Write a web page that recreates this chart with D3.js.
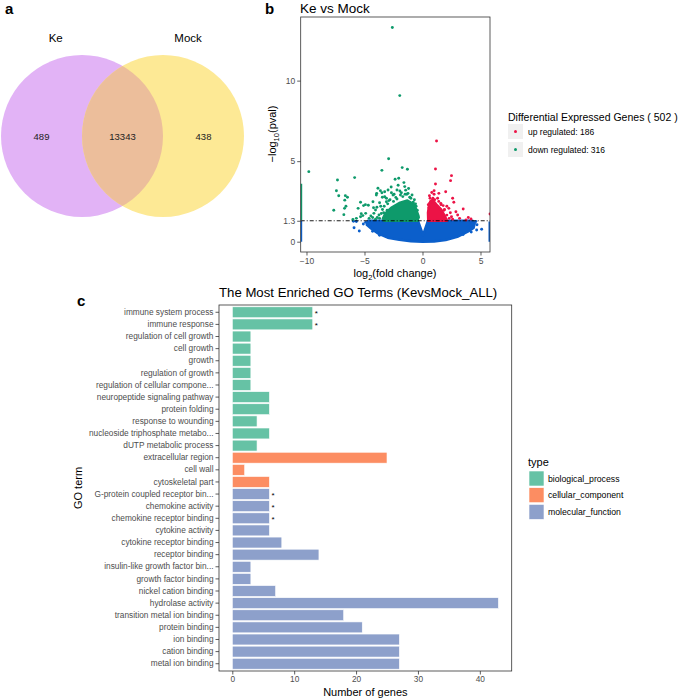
<!DOCTYPE html>
<html>
<head>
<meta charset="utf-8">
<script src="https://cdn.jsdelivr.net/npm/d3@7"></script>
<style>
  body { margin: 0; background: #fff; }
  text { font-family: 'Liberation Sans', Arial, Helvetica, sans-serif; }
</style>
</head>
<body>
<script>
// ---- panel a: venn ----
const vennSets = ['Ke', 'Mock']
const vennCounts = [489, 13343, 438] // Ke only, shared, Mock only

// ---- panel b: volcano (log2 fold change, -log10 pval) ----
const pvalCutoff = 1.3
const degTotal = 502
const upCount = 186
const downCount = 316
const downPoints = [
  [-2.6, 13.3], [-1.96, 9.07], [-9.8, 4.35], [-2.92, 5.15], [-3.5, 4.43], [-1.75, 4.6], [-1.3, 4.5],
  [-5.85, 3.98], [-7.33, 3.83], [-7.42, 3.16], [-7.22, 2.85], [-6.65, 2.86], [-6.47, 2.76], [-6.7, 2.58],
  [-7.65, 1.95], [-6.6, 2.2], [-6.72, 2.07], [-6.78, 1.68], [-5.34, 2.45], [-5.55, 2.07], [-5.08, 2.24],
  [-4.92, 2.3], [-4.67, 2.26], [-5.28, 1.74], [-5.14, 1.62], [-5.34, 1.55], [-4.9, 1.76], [-4.22, 2.11],
  [-4.05, 1.97], [-3.93, 2.14], [-4.19, 1.76], [-3.75, 1.66], [-3.35, 1.8], [-3.84, 3.32], [-3.63, 3.17],
  [-3.95, 3.0], [-3.5, 3.04], [-3.26, 3.1], [-3.26, 2.79], [-2.97, 3.21], [-2.68, 3.04], [-2.05, 3.94],
  [-2.36, 3.88], [-1.6, 3.67], [-1.53, 3.42], [-2.2, 3.21], [-1.82, 3.04], [-1.25, 3.0], [-1.1, 2.76],
  [-2.54, 2.9], [-3.11, 2.7], [-3.98, 2.9], [-3.46, 2.76], [-4.27, 2.48], [-3.7, 2.42], [-3.11, 2.48],
  [-4.6, 1.45], [-4.45, 1.6], [-3.6, 2.2], [-3.9, 1.5], [-2.8, 2.6], [-2.3, 2.75], [-1.9, 2.9],
  [-1.45, 3.2], [-0.9, 2.9], [-0.7, 2.6], [-1.2, 3.3], [-2.1, 3.5], [-2.7, 3.4], [-5.7, 1.45], [-6.0, 1.38],
  [-3.3, 2.2], [-3.0, 2.35], [-2.5, 2.5], [-2.2, 2.65], [-1.7, 2.8], [-1.5, 2.95], [-1.0, 2.7], [-0.8, 2.45],
  [-0.55, 2.2], [-0.45, 1.95], [-3.55, 1.75], [-3.7, 1.45], [-3.45, 2.0], [-2.9, 2.55], [-1.35, 2.95],
  [-0.6, 2.35], [-2.45, 2.95], [-1.95, 3.15], [-3.05, 1.95], [-4.05, 1.4], [-4.3, 1.5], [-0.35, 1.5]
]
const upPoints = [
  [1.21, 6.25], [1.12, 4.51], [2.5, 4.1], [2.42, 3.79], [1.12, 3.58], [1.0, 3.17], [2.0, 3.1], [1.41, 3.0],
  [2.6, 2.7], [2.7, 2.45], [1.58, 2.38], [1.78, 2.24], [2.27, 2.07], [2.88, 1.86], [3.51, 2.03], [3.03, 1.66],
  [3.75, 1.35], [4.18, 1.41], [3.95, 1.5], [2.5, 1.55], [2.4, 1.8], [2.1, 2.2], [0.8, 3.05], [0.6, 2.85],
  [1.3, 2.7], [1.9, 2.0], [0.5, 2.3], [3.2, 1.45], [5.82, 1.72],
  [0.55, 2.1], [0.7, 2.5], [0.9, 2.7], [1.05, 2.6], [1.4, 2.5], [1.6, 2.3], [1.85, 1.95], [2.1, 1.65],
  [2.3, 1.45], [1.0, 2.95], [0.65, 2.7], [2.6, 1.4]
]
const nsPoints = [
  [-5.9, 0.87], [-5.45, 0.66], [-5.95, 1.27], [-5.7, 1.25], [-4.56, 0.98], [-4.9, 1.2], [-5.1, 1.1],
  [4.67, 0.73], [5.1, 0.77], [3.95, 0.9], [4.18, 1.04], [4.1, 1.24], [4.6, 1.25], [4.7, 1.05],
  [-4.3, 0.65], [-3.7, 0.4], [3.5, 0.45], [4.2, 0.6]
]
// dense cores, outlined from the picture
const nsCore = [
  [-4.7, 1.3], [-0.4, 1.3], [0.05, 0.4], [0.48, 1.3], [4.3, 1.3], [4.5, 1.15], [4.4, 0.85], [3.9, 0.62],
  [3.0, 0.3], [2.0, 0.1], [1.0, 0.02], [0.0, 0.0], [-1.0, 0.03], [-2.0, 0.12], [-3.0, 0.25], [-3.8, 0.5],
  [-4.4, 0.8], [-4.8, 1.05]
]
const downCore = [
  [-3.3, 1.3], [-0.42, 1.3], [-0.35, 1.6], [-0.7, 2.3], [-1.3, 2.55], [-2.0, 2.4], [-2.7, 2.1], [-3.2, 1.75], [-3.4, 1.45]
]
const upCore = [
  [0.5, 1.3], [2.1, 1.3], [1.95, 1.55], [1.6, 2.0], [1.2, 2.3], [0.85, 2.6], [0.6, 2.4], [0.48, 1.8]
]
// points piled on the x limits
const edgeStrips = [
  { x: -10.5, y0: 1.35, y1: 3.6, type: 'down' },
  { x: -10.5, y0: 0, y1: 1.3, type: 'ns' },
  { x: 5.82, y0: 0, y1: 1.25, type: 'ns' }
]
const volcanoXTicks = [-10, -5, 0, 5]
const volcanoYTicks = [0, 1.3, 5, 10]

// ---- panel c: GO terms ----
const goTerms = [
  'immune system process', 'immune response', 'regulation of cell growth', 'cell growth', 'growth',
  'regulation of growth', 'regulation of cellular compone...', 'neuropeptide signaling pathway',
  'protein folding', 'response to wounding', 'nucleoside triphosphate metabo...', 'dUTP metabolic process',
  'extracellular region', 'cell wall', 'cytoskeletal part',
  'G-protein coupled receptor bin...', 'chemokine activity', 'chemokine receptor binding', 'cytokine activity',
  'cytokine receptor binding', 'receptor binding', 'insulin-like growth factor bin...', 'growth factor binding',
  'nickel cation binding', 'hydrolase activity', 'transition metal ion binding', 'protein binding',
  'ion binding', 'cation binding', 'metal ion binding'
]
const goCounts = [13, 13, 3, 3, 3, 3, 3, 6, 6, 4, 6, 4, 25, 2, 6, 6, 6, 6, 6, 8, 14, 3, 3, 7, 43, 18, 21, 27, 27, 27]
const goTypes = [
  'biological_process', 'biological_process', 'biological_process', 'biological_process', 'biological_process',
  'biological_process', 'biological_process', 'biological_process', 'biological_process', 'biological_process',
  'biological_process', 'biological_process',
  'cellular_component', 'cellular_component', 'cellular_component',
  'molecular_function', 'molecular_function', 'molecular_function', 'molecular_function', 'molecular_function',
  'molecular_function', 'molecular_function', 'molecular_function', 'molecular_function', 'molecular_function',
  'molecular_function', 'molecular_function', 'molecular_function', 'molecular_function', 'molecular_function'
]
const goSignificant = [true, true, false, false, false, false, false, false, false, false, false, false, false, false, false,
  true, true, true, false, false, false, false, false, false, false, false, false, false, false, false]
const typeNames = ['biological_process', 'cellular_component', 'molecular_function']
const typeColors = ['#66c2a5', '#fc8d62', '#8da0cb']
const goXTicks = [0, 10, 20, 30, 40]

const tickGrey = '#4d4d4d'
const frameGrey = '#333333'

const svg = d3.select('body').append('svg').attr('width', 685).attr('height', 700)

// panel letters
svg.selectAll('text.letter')
  .data([{ t: 'a', x: 5, y: 14 }, { t: 'b', x: 265, y: 14 }, { t: 'c', x: 77, y: 306 }])
  .join('text')
  .attr('x', d => d.x).attr('y', d => d.y)
  .attr('font-size', 15).attr('font-weight', 'bold')
  .text(d => d.t)

// ================= a =================
{
  const u = d3.scaleLinear().domain([-1, 1]).range([82, 163])
  const cy = 136
  const r = u(2) - u(0)
  const g = svg.append('g')
  g.append('clipPath').attr('id', 'keClip')
    .append('circle').attr('cx', u(-1)).attr('cy', cy).attr('r', r)
  g.append('circle').attr('cx', u(-1)).attr('cy', cy).attr('r', r).attr('fill', '#e2b3f6')
  g.append('circle').attr('cx', u(1)).attr('cy', cy).attr('r', r).attr('fill', '#fde995')
  g.append('circle').attr('cx', u(1)).attr('cy', cy).attr('r', r).attr('fill', '#ecbe9b')
    .attr('clip-path', 'url(#keClip)')

  g.selectAll('text.set')
    .data(vennSets)
    .join('text')
    .attr('x', (d, i) => u(i === 0 ? -1.65 : 1.62))
    .attr('y', 42)
    .attr('text-anchor', 'middle')
    .attr('font-size', 11.5)
    .text(d => d)

  g.selectAll('text.count')
    .data(vennCounts)
    .join('text')
    .attr('x', (d, i) => u(-2 + i * 2))
    .attr('y', cy + 3.5)
    .attr('text-anchor', 'middle')
    .attr('font-size', 9.5)
    .attr('fill', '#222')
    .text(d => d)
}

// ================= b =================
{
  const colors = { down: '#0e9a6b', up: '#ec1346', ns: '#0b5fcb' }
  const x = d3.scaleLinear().domain([-10.5, 5.82]).range([300.7, 490])
  const y = d3.scaleLinear().domain([-0.64, 13.95]).range([252, 17])
  const g = svg.append('g')

  g.append('clipPath').attr('id', 'volClip')
    .append('rect').attr('x', 300.7).attr('y', 17).attr('width', 189.3).attr('height', 235)

  const plot = g.append('g').attr('clip-path', 'url(#volClip)')
  const poly = d3.line().x(d => x(d[0])).y(d => y(d[1])).curve(d3.curveLinearClosed)

  plot.selectAll('path.core')
    .data([{ pts: nsCore, type: 'ns' }, { pts: downCore, type: 'down' }, { pts: upCore, type: 'up' }])
    .join('path')
    .attr('d', d => poly(d.pts))
    .attr('fill', d => colors[d.type])
    .attr('stroke', d => colors[d.type])
    .attr('stroke-width', 2.6)
    .attr('stroke-linejoin', 'round')

  plot.selectAll('line.strip')
    .data(edgeStrips)
    .join('line')
    .attr('x1', d => x(d.x)).attr('x2', d => x(d.x))
    .attr('y1', d => y(d.y0)).attr('y2', d => y(d.y1))
    .attr('stroke', d => colors[d.type])
    .attr('stroke-width', 3)

  const dots = [
    ...nsPoints.map(p => ({ p, type: 'ns' })),
    ...downPoints.map(p => ({ p, type: 'down' })),
    ...upPoints.map(p => ({ p, type: 'up' }))
  ]
  plot.selectAll('circle')
    .data(dots)
    .join('circle')
    .attr('cx', d => x(d.p[0]))
    .attr('cy', d => y(d.p[1]))
    .attr('r', 1.45)
    .attr('fill', d => colors[d.type])

  // cutoff line
  g.append('line')
    .attr('x1', x.range()[0]).attr('x2', x.range()[1])
    .attr('y1', y(pvalCutoff)).attr('y2', y(pvalCutoff))
    .attr('stroke', '#000').attr('stroke-width', 0.9)
    .attr('stroke-dasharray', '4,2,1,2')

  g.append('rect')
    .attr('x', 300.7).attr('y', 17).attr('width', 189.3).attr('height', 235)
    .attr('fill', 'none').attr('stroke', frameGrey).attr('stroke-width', 0.8)

  const ax = g.append('g').attr('transform', 'translate(0,252)')
    .call(d3.axisBottom(x).tickValues(volcanoXTicks).tickSize(3.5).tickPadding(2))
  const ay = g.append('g').attr('transform', 'translate(300.7,0)')
    .call(d3.axisLeft(y).tickValues(volcanoYTicks).tickSize(3.5).tickPadding(2).tickFormat(d => d))
  ;[ax, ay].forEach(a => {
    a.select('.domain').remove()
    a.selectAll('line').attr('stroke', frameGrey).attr('stroke-width', 0.8)
    a.selectAll('text').attr('fill', tickGrey).attr('font-size', 8.5)
      .attr('font-family', "'Liberation Sans', Arial, sans-serif")
  })

  g.append('text')
    .attr('x', 300).attr('y', 13)
    .attr('font-size', 13.5)
    .text('Ke vs Mock')

  const xl = g.append('text')
    .attr('x', 395).attr('y', 277)
    .attr('text-anchor', 'middle').attr('font-size', 11)
  xl.append('tspan').text('log')
  xl.append('tspan').attr('font-size', 7.5).attr('dy', 3).text('2')
  xl.append('tspan').attr('dy', -3).text('(fold change)')

  const yl = g.append('text')
    .attr('transform', 'translate(276,134) rotate(-90)')
    .attr('text-anchor', 'middle').attr('font-size', 11)
  yl.append('tspan').text('\u2212log')
  yl.append('tspan').attr('font-size', 7.5).attr('dy', 3).text('10')
  yl.append('tspan').attr('dy', -3).text('(pval)')

  // legend
  const lg = g.append('g')
  lg.append('text').attr('x', 508).attr('y', 121).attr('font-size', 10.5)
    .text(`Differential Expressed Genes ( ${degTotal} )`)
  const items = [
    { label: `up regulated: ${upCount}`, type: 'up' },
    { label: `down regulated: ${downCount}`, type: 'down' }
  ]
  const row = lg.selectAll('g.item').data(items).join('g')
    .attr('transform', (d, i) => `translate(508,${124 + i * 18})`)
  row.append('rect').attr('width', 15).attr('height', 15).attr('fill', '#f0f0f0')
  row.append('circle').attr('cx', 7.5).attr('cy', 7.5).attr('r', 1.5).attr('fill', d => colors[d.type])
  row.append('text').attr('x', 20).attr('y', 10.5).attr('font-size', 8.5).text(d => d.label)
}

// ================= c =================
{
  const left = 219, right = 511.7, top = 305, bottom = 671
  const x = d3.scaleLinear().domain([-2.15, 45.15]).range([left, right])
  const y = d3.scaleBand().domain(goTerms).range([top, bottom]).paddingInner(0.1).paddingOuter(0.15)
  const color = d3.scaleOrdinal().domain(typeNames).range(typeColors)
  const g = svg.append('g')

  g.append('text')
    .attr('x', left).attr('y', 297)
    .attr('font-size', 13.2)
    .text('The Most Enriched GO Terms (KevsMock_ALL)')

  g.selectAll('rect.bar')
    .data(goTerms)
    .join('rect')
    .attr('x', x(0))
    .attr('y', d => y(d))
    .attr('width', (d, i) => x(goCounts[i]) - x(0))
    .attr('height', y.bandwidth())
    .attr('fill', (d, i) => color(goTypes[i]))
    .attr('stroke', '#fff')
    .attr('stroke-width', 0.6)

  g.selectAll('text.star')
    .data(goTerms.filter((d, i) => goSignificant[i]))
    .join('text')
    .attr('x', d => x(goCounts[goTerms.indexOf(d)]) + 2)
    .attr('y', d => y(d) + y.bandwidth() / 2 + 4)
    .attr('font-size', 8)
    .text('*')

  g.append('rect')
    .attr('x', left).attr('y', top).attr('width', right - left).attr('height', bottom - top)
    .attr('fill', 'none').attr('stroke', frameGrey).attr('stroke-width', 0.8)

  const ax = g.append('g').attr('transform', `translate(0,${bottom})`)
    .call(d3.axisBottom(x).tickValues(goXTicks).tickSize(3.5).tickPadding(2))
  const ay = g.append('g').attr('transform', `translate(${left},0)`)
    .call(d3.axisLeft(y).tickSize(3.5).tickPadding(2))
  ;[ax, ay].forEach(a => {
    a.select('.domain').remove()
    a.selectAll('line').attr('stroke', frameGrey).attr('stroke-width', 0.8)
    a.selectAll('text').attr('fill', tickGrey).attr('font-size', 8.3)
      .attr('font-family', "'Liberation Sans', Arial, sans-serif")
  })

  g.append('text')
    .attr('x', (left + right) / 2).attr('y', 696)
    .attr('text-anchor', 'middle').attr('font-size', 11)
    .text('Number of genes')
  g.append('text')
    .attr('transform', `translate(82,${(top + bottom) / 2}) rotate(-90)`)
    .attr('text-anchor', 'middle').attr('font-size', 11)
    .text('GO term')

  // legend
  const lg = g.append('g')
  lg.append('text').attr('x', 528).attr('y', 466).attr('font-size', 11).text('type')
  const row = lg.selectAll('g.item').data(typeNames).join('g')
    .attr('transform', (d, i) => `translate(529,${471 + i * 16.7})`)
  row.append('rect').attr('width', 15).attr('height', 15).attr('fill', d => color(d))
    .attr('stroke', '#fff').attr('stroke-width', 0.6)
  row.append('text').attr('x', 19).attr('y', 10.5).attr('font-size', 8.7).text(d => d)
}
</script>
</body>
</html>
